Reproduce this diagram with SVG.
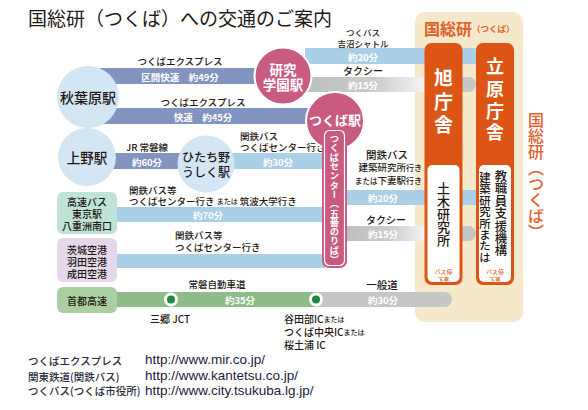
<svg xmlns="http://www.w3.org/2000/svg" width="588" height="410" viewBox="0 0 588 410">
<defs>
<linearGradient id="taxi" x1="0" x2="1" y1="0" y2="0">
<stop offset="0" stop-color="#bcbdbd"/>
<stop offset="0.6" stop-color="#cdcece"/>
<stop offset="1" stop-color="#f7f7f7"/>
</linearGradient>
</defs>
<style>
text{font-family:"Noto Sans CJK JP","Noto Sans",sans-serif;fill:#231815;dominant-baseline:central;font-weight:500}
.c{text-anchor:middle}
.lbl{font-size:9.5px}
.bt{font-size:9.5px;fill:#fff;font-weight:bold;text-anchor:middle}
.vert{writing-mode:vertical-rl}
.sky{fill:#aacfe6}
.slate{fill:#8294c0}
.grey{fill:#c5c6c6}
.green{fill:#8fbd89}
.stn{fill:#d3e6f4}
.pink{fill:#c95b80;stroke:#fff;stroke-width:2}
.org{fill:#dd5514}
.wt{fill:#fff;font-weight:bold;text-anchor:middle}
.wv{fill:#fff;font-weight:bold}
.ot{fill:#e2602a}
.bs{font-size:5.8px;fill:#e4602a;text-anchor:middle}
.box{font-size:10px;text-anchor:middle}
.dot{fill:#1d8a3b;stroke:#fff;stroke-width:3}
.ft{font-size:10.5px;fill:#2b2b3a}
.url{font-family:"Liberation Sans",Arial,sans-serif;font-size:13.5px;fill:#1f2040;dominant-baseline:auto;font-weight:normal}
</style>
<text x="28" y="17.5" font-size="19" style="font-weight:normal">国総研（つくば）への交通のご案内</text>
<g id="panel">
<rect x="415" y="12" width="108" height="310" rx="10" fill="#f6e8cb"/>
<text class="ot" x="424" y="28" font-size="16" style="font-weight:bold">国総研<tspan font-size="8.5">（つくば）</tspan></text>
</g>
<g id="connectors">
<rect class="slate" x="100" y="68" width="170" height="16"/>
<text class="lbl c" x="180" y="61">つくばエクスプレス</text>
<text class="bt" x="180" y="76.5">区間快速　約49分</text>
<rect class="slate" x="100" y="108" width="215" height="16"/>
<text class="lbl c" x="203" y="102">つくばエクスプレス</text>
<text class="bt" x="203" y="116.5">快速　約45分</text>
<rect class="sky" x="305" y="48" width="175" height="16"/>
<text class="c" font-size="8.5" x="363" y="32">つくバス</text>
<text class="c" font-size="8.5" x="363" y="43">吉沼シャトル</text>
<text class="bt" x="363" y="56.5">約20分</text>
<rect class="grey" x="450" y="77" width="26" height="15" rx="7.5"/>
<rect x="305" y="77" width="122" height="15" fill="url(#taxi)"/>
<text class="c" font-size="10" x="363" y="70.5">タクシー</text>
<text class="bt" x="363" y="85">約15分</text>
<rect class="slate" x="110" y="153" width="78" height="16"/>
<text class="lbl c" x="147" y="146.5">JR 常磐線</text>
<text class="bt" x="147" y="161.5">約60分</text>
<rect class="sky" x="225" y="153" width="100" height="16"/>
<text class="lbl" x="240" y="135.5">関鉄バス</text>
<text class="lbl" x="240" y="147">つくばセンター行き</text>
<text class="bt" x="278" y="161.5">約30分</text>
<rect class="sky" x="110" y="207" width="215" height="15"/>
<text class="lbl" x="129" y="189.5">関鉄バス等</text>
<text class="lbl" x="129" y="201">つくばセンター行き <tspan font-size="7">または</tspan> 筑波大学行き</text>
<text class="bt" x="208" y="215">約70分</text>
<rect class="sky" x="110" y="254" width="215" height="14"/>
<text class="lbl" x="175" y="235">関鉄バス等</text>
<text class="lbl" x="175" y="247">つくばセンター行き</text>
<rect class="sky" x="340" y="190" width="140" height="15"/>
<text class="c" font-size="10.5" x="387" y="154.5">関鉄バス</text>
<text x="422" y="167" font-size="9.5" text-anchor="end">建築研究所<tspan font-size="8">行き</tspan></text>
<text x="422" y="180" font-size="9.5" text-anchor="end"><tspan font-size="7.5">または</tspan>下妻駅<tspan font-size="8">行き</tspan></text>
<text class="bt" x="383" y="198">約20分</text>
<rect class="grey" x="450" y="226" width="26" height="15" rx="7.5"/>
<rect x="340" y="226" width="87" height="15" fill="url(#taxi)"/>
<text class="c" font-size="10" x="386" y="219.5">タクシー</text>
<text class="bt" x="383" y="234">約15分</text>
<rect class="grey" x="300" y="292" width="152" height="15" rx="7.5"/>
<rect class="green" x="110" y="292" width="208" height="15"/>
<circle class="dot" cx="171" cy="299.5" r="5.5"/>
<circle class="dot" cx="316" cy="299.5" r="5.5"/>
<text class="lbl c" x="217" y="284">常磐自動車道</text>
<text class="bt" x="240" y="299.5">約35分</text>
<text class="c" font-size="10.5" x="382" y="284">一般道</text>
<text class="bt" x="383" y="299.5">約30分</text>
<text class="c" font-size="10" x="170" y="318">三郷 JCT</text>
<text x="284" y="318.5" font-size="10">谷田部IC<tspan font-size="7">または</tspan></text>
<text x="284" y="331.5" font-size="10">つくば中央IC<tspan font-size="7">または</tspan></text>
<text x="284" y="344.5" font-size="10">桜土浦 IC</text>
</g>
<g id="akihabara"><circle class="stn" cx="88" cy="97" r="31"/><text class="c" font-size="14" x="88" y="97">秋葉原駅</text></g>
<g id="ueno"><circle class="stn" cx="87" cy="157" r="29"/><text class="c" font-size="13.5" x="87" y="157">上野駅</text></g>
<g id="hitachino"><circle class="stn" cx="206" cy="164" r="28.5"/><text class="c" font-size="12" x="206" y="156.5">ひたち野</text><text class="c" font-size="12" x="206" y="171">うしく駅</text></g>
<g id="kenkyugakuen"><circle class="pink" cx="283" cy="76" r="28.5"/><text class="wt" font-size="13.5" x="283" y="68.5">研究</text><text class="wt" font-size="13.5" x="283" y="84">学園駅</text></g>
<g id="tsukuba"><circle class="pink" cx="335" cy="121" r="29"/><text class="wt" font-size="13" x="335" y="119.5">つくば駅</text>
<rect x="322" y="128" width="25" height="140" rx="7" fill="#c95b80"/>
<rect x="324.5" y="130.5" width="20" height="135" rx="5" fill="none" stroke="#fff" stroke-width="1.2"/>
<text class="vert wv" font-size="9.3" x="334.5" y="134">つくばセンター（五番のりば）</text></g>
<g id="kosoku"><rect x="57" y="192" width="60" height="42" rx="6" fill="#bfe3d6"/><text class="box" x="87" y="201.5">高速バス</text><text class="box" x="87" y="213.5">東京駅</text><text class="box" x="87" y="225.5">八重洲南口</text></g>
<g id="airport"><rect x="57" y="238" width="60" height="44" rx="6" fill="#e5d8ea"/><text class="box" x="87" y="249">茨城空港</text><text class="box" x="87" y="261">羽田空港</text><text class="box" x="87" y="273">成田空港</text></g>
<g id="shuto"><rect x="57" y="287" width="60" height="26" rx="6" fill="#a9cfa2"/><text class="box" font-size="11" x="87" y="300">首都高速</text></g>
<g id="asahi">
<rect class="org" x="424.5" y="43" width="38" height="242" rx="7"/>
<rect x="427.5" y="165" width="32" height="117" rx="5" fill="#fff"/>
<text class="wt" font-size="19" x="443.5" y="76">旭</text>
<text class="wt" font-size="19" x="443.5" y="100">庁</text>
<text class="wt" font-size="19" x="443.5" y="123">舎</text>
<text class="vert" font-size="13" x="443.5" y="182">土木研究所</text>
<text class="bs" x="443.5" y="271.5">バス停</text>
<text class="bs" x="443.5" y="279">下車</text>
</g>
<g id="tachihara">
<rect class="org" x="476" y="43" width="38" height="242" rx="7"/>
<rect x="479" y="165" width="32" height="117" rx="5" fill="#fff"/>
<text class="wt" font-size="18" x="495" y="65">立</text>
<text class="wt" font-size="18" x="495" y="88">原</text>
<text class="wt" font-size="18" x="495" y="110">庁</text>
<text class="wt" font-size="18" x="495" y="131">舎</text>
<text class="vert" font-size="12.4" x="501" y="170">教職員支援機構</text>
<text class="vert" font-size="11.4" x="485" y="172">建築研究所または</text>
<text class="bs" x="495" y="271.5">バス停</text>
<text class="bs" x="495" y="279">下車</text>
</g>
<text class="vert ot" font-size="16" x="536" y="112">国総研（つくば）</text>
<g id="footer">
<text class="ft" x="28" y="360">つくばエクスプレス</text>
<text class="ft" x="28" y="376">関東鉄道(関鉄バス)</text>
<text class="ft" x="28" y="390.5">つくバス(つくば市役所)</text>
<text class="url" x="145" y="364">http://www.mir.co.jp/</text>
<text class="url" x="145" y="380">http://www.kantetsu.co.jp/</text>
<text class="url" x="145" y="395">http://www.city.tsukuba.lg.jp/</text>
</g>
</svg>
